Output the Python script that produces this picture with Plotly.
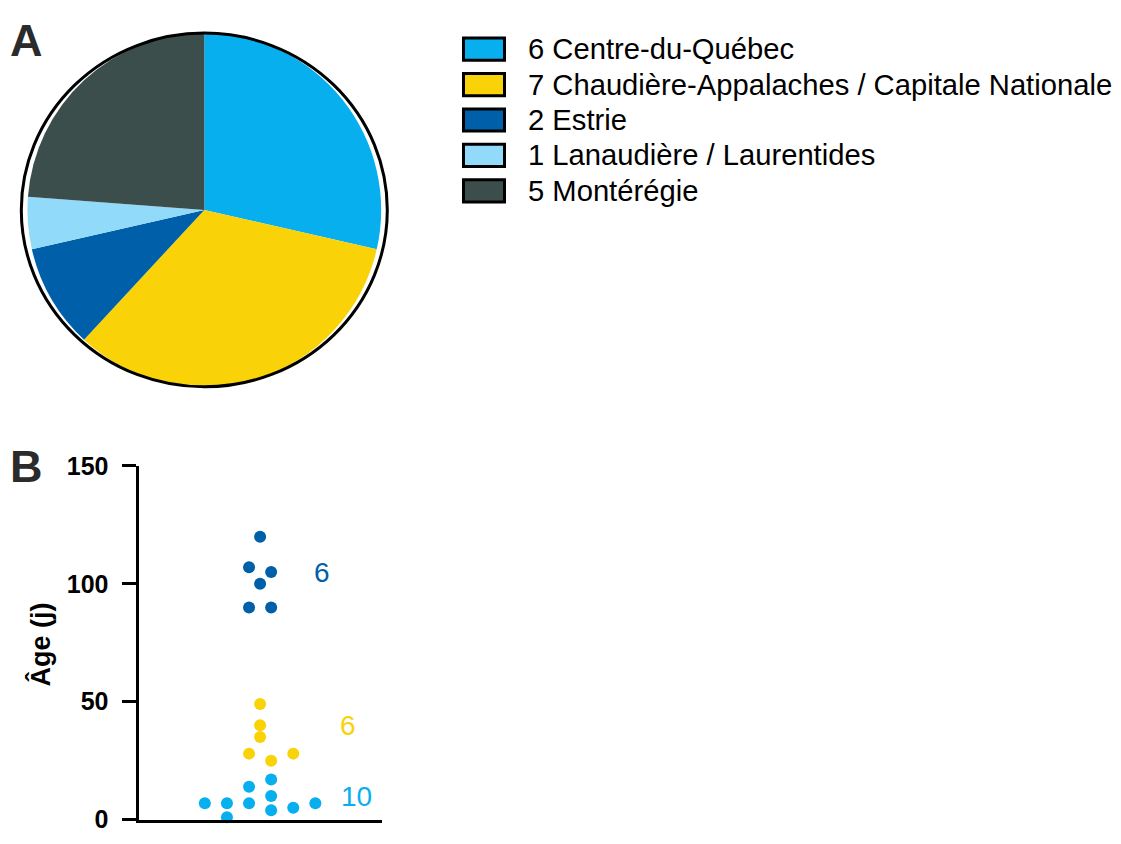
import plotly.graph_objects as go

# The page body adds an 8 px margin, so the figure is drawn 8 px smaller
OFF = 8
W, H = 1121 - OFF, 844 - OFF

# ---- Data: panel A (pie) ----
regions = ["Centre-du-Québec", "Chaudière-Appalaches / Capitale Nationale", "Estrie",
           "Lanaudière / Laurentides", "Montérégie"]
counts = [6, 7, 2, 1, 5]
pie_colors = ["#07AFEE", "#F9D307", "#005FA9", "#92DAF9", "#3C4E4C"]

# ---- Data: panel B (dot plot of ages) ----
ages_dark = [120, 107, 105, 100, 90, 90]
jitter_dark = [0, -1, 1, 0, -1, 1]
ages_yellow = [49, 40, 35, 28, 25, 28]
jitter_yellow = [0, 0, 0, -1, 1, 3]
ages_light = [7, 7, 1, 14, 7, 17, 10, 4, 5, 7]
jitter_light = [-5, -3, -3, -1, -1, 1, 1, 1, 3, 5]
group_counts = [len(ages_dark), len(ages_yellow), len(ages_light)]
dot_colors = ["#005FA9", "#F9D307", "#07AFEE"]
y_ticks = [0, 50, 100, 150]

FONT = "Liberation Sans, Arial, Helvetica, sans-serif"


def px(x):
    return (x - OFF) / W


def py(y):
    return 1 - (y - OFF) / H


fig = go.Figure()

# Pie
pl, pr, pt, pb = 21.3, 387.3, 19.5, 385.5
fig.add_trace(go.Pie(
    labels=regions, values=counts, sort=False, direction="clockwise", rotation=0,
    marker=dict(colors=pie_colors, line=dict(width=0)),
    textinfo="none", hoverinfo="label+value", showlegend=False,
    domain=dict(x=[px(pl), px(pr)], y=[py(pb), py(pt)]),
))
fig.add_shape(type="circle", xref="paper", yref="paper",
              x0=px(pl), x1=px(pr), y0=py(pb), y1=py(pt),
              line=dict(color="black", width=3))

# Custom legend (large boxes)
for i, (name, n, col) in enumerate(zip(regions, counts, pie_colors)):
    yc = 36 + 36.7 * i
    fig.add_shape(type="rect", xref="paper", yref="paper",
                  x0=px(463.5), x1=px(504.5), y0=py(yc + 11.5), y1=py(yc - 11.5),
                  fillcolor=col, line=dict(color="black", width=3))
    fig.add_annotation(xref="paper", yref="paper", x=px(526), y=py(yc),
                       xanchor="left", yanchor="middle", showarrow=False,
                       text=f"{n} {name}", font=dict(family=FONT, size=29.2, color="black"))

# Dot plot
for ages, jit, col in zip([ages_dark, ages_yellow, ages_light],
                          [jitter_dark, jitter_yellow, jitter_light], dot_colors):
    fig.add_trace(go.Scatter(x=jit, y=ages, mode="markers", cliponaxis=False,
                             marker=dict(color=col, size=12, line=dict(width=0)),
                             showlegend=False, xaxis="x", yaxis="y"))

label_pos = [(5.6, 105), (7.95, 40), (8.7, 10)]
for n, (lx, ly), col in zip(group_counts, label_pos, dot_colors):
    fig.add_annotation(x=lx, y=ly, xref="x", yref="y", text=str(n), showarrow=False,
                       xanchor="center", yanchor="middle",
                       font=dict(family=FONT, size=28, color=col))

fig.update_layout(
    width=W, height=H,
    margin=dict(l=0, r=0, t=0, b=0),
    paper_bgcolor="white", plot_bgcolor="white",
    xaxis=dict(domain=[px(138.5), px(381.7)], range=[-11, 11], showline=True,
               linecolor="black", linewidth=3, showticklabels=False, ticks="",
               showgrid=False, zeroline=False, fixedrange=True),
    yaxis=dict(domain=[py(833.3), py(467.3)], range=[0, 150], tickvals=y_ticks,
               showline=True, linecolor="black", linewidth=3, ticks="outside",
               ticklen=14, tickwidth=3, tickcolor="black", ticklabelstandoff=8,
               ticklabeloverflow="allow",
               tickfont=dict(family=FONT, size=25, color="black", weight="bold"),
               showgrid=False, zeroline=False, fixedrange=True),
)

# Y title
fig.add_annotation(xref="paper", yref="paper", x=px(40), y=py(652), text="Âge (j)",
                   textangle=-90, showarrow=False, xanchor="center", yanchor="middle",
                   font=dict(family=FONT, size=27, color="black", weight="bold"))

# Panel letters
for letter, (lx, ly) in zip(["A", "B"], [(26, 27), (26, 468)]):
    fig.add_annotation(xref="paper", yref="paper", x=px(lx), y=py(ly), text=letter,
                       showarrow=False, xanchor="center", yanchor="middle",
                       font=dict(family=FONT, size=45, color="#2B2B2B", weight="bold"))

fig.write_html("out.html")
